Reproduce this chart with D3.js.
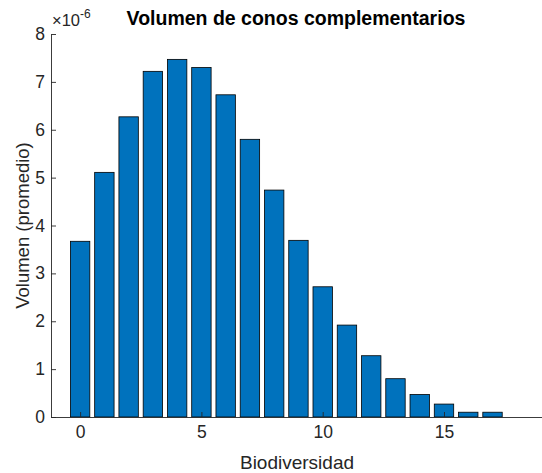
<!DOCTYPE html>
<html>
<head>
<meta charset="utf-8">
<script src="https://cdn.jsdelivr.net/npm/d3@7"></script>
<style>
  html, body { margin: 0; padding: 0; background: #fff; }
  svg { display: block; font-family: "Liberation Sans", Arial, sans-serif; }
</style>
</head>
<body>
<svg id="chart" width="542" height="473"></svg>
<script>
// Average volume of complementary cones per biodiversity level (units of 1e-6)
const biodiversity = [0, 1, 2, 3, 4, 5, 6, 7, 8, 9, 10, 11, 12, 13, 14, 15, 16, 17];
const volumeE6 = [3.67, 5.11, 6.27, 7.22, 7.47, 7.30, 6.73, 5.80, 4.74, 3.69, 2.72, 1.92, 1.28, 0.80, 0.47, 0.27, 0.10, 0.10];
const xTicks = [0, 5, 10, 15];
const yTicks = [0, 1, 2, 3, 4, 5, 6, 7, 8];

const svg = d3.select("#chart");
const axisColor = "#262626";
const barColor = "#0072BD";

const plot = { left: 51, right: 542, top: 34, bottom: 417 };

const x = d3.scaleLinear().domain([-1.2, 19.04]).range([plot.left, plot.right]);
const y = d3.scaleLinear().domain([0, 8]).range([plot.bottom, plot.top]);

const barWidth = x(0.8) - x(0);

// Bars
svg.append("g")
  .selectAll("rect")
  .data(biodiversity.map((b, i) => ({ b, v: volumeE6[i] })))
  .join("rect")
  .attr("x", d => x(d.b) - barWidth / 2)
  .attr("y", d => y(d.v))
  .attr("width", barWidth)
  .attr("height", d => y(0) - y(d.v))
  .attr("fill", barColor)
  .attr("stroke", "#000")
  .attr("stroke-width", 0.8);

// Y axis (ticks point inward)
const yAxis = svg.append("g")
  .attr("transform", `translate(${plot.left},0)`)
  .call(d3.axisLeft(y).tickValues(yTicks).tickSizeInner(-5).tickSizeOuter(0).tickPadding(6).tickFormat(d3.format("d")));

// X axis (ticks point inward)
const xAxis = svg.append("g")
  .attr("transform", `translate(0,${plot.bottom})`)
  .call(d3.axisBottom(x).tickValues(xTicks).tickSizeInner(-5).tickSizeOuter(0).tickPadding(9).tickFormat(d3.format("d")));

[yAxis, xAxis].forEach(g => {
  g.select(".domain").attr("stroke", axisColor).attr("stroke-width", 0.9);
  g.selectAll(".tick line").attr("stroke", axisColor).attr("stroke-width", 0.9);
  g.selectAll(".tick text")
    .attr("fill", axisColor)
    .style("font-size", "17.5px")
    .style("font-family", "'Liberation Sans', Arial, sans-serif");
});

// Exponent marker above the y axis
const expo = svg.append("text")
  .attr("x", 52)
  .attr("y", 26)
  .attr("fill", axisColor)
  .style("font-size", "16.5px");
expo.append("tspan").text("×10");
expo.append("tspan").attr("dy", -8).style("font-size", "12px").text("-6");

// Title
svg.append("text")
  .attr("x", 296)
  .attr("y", 25)
  .attr("text-anchor", "middle")
  .attr("fill", "#000")
  .style("font-size", "19.5px")
  .style("font-weight", "bold")
  .text("Volumen de conos complementarios");

// Axis labels
svg.append("text")
  .attr("x", 297)
  .attr("y", 469)
  .attr("text-anchor", "middle")
  .attr("fill", axisColor)
  .style("font-size", "19px")
  .text("Biodiversidad");

svg.append("text")
  .attr("transform", `translate(29,${(plot.top + plot.bottom) / 2}) rotate(-90)`)
  .attr("text-anchor", "middle")
  .attr("fill", axisColor)
  .style("font-size", "18.5px")
  .text("Volumen (promedio)");
</script>
</body>
</html>
